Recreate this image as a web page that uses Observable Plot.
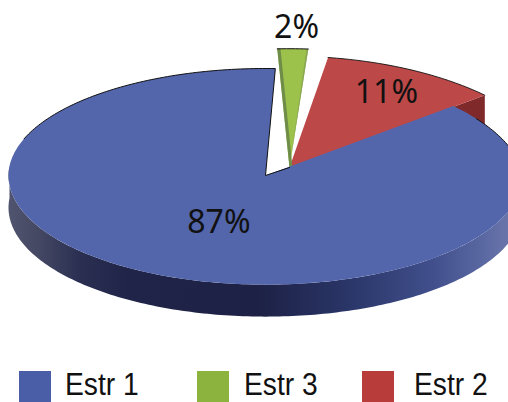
<!DOCTYPE html>
<html><head><meta charset="utf-8">
<style>
html,body{margin:0;padding:0;background:#fff;overflow:hidden}
#legend{position:relative;width:508px;height:31px;font:31px "Liberation Sans",sans-serif;color:#111}
#legend i{position:absolute;top:0;width:32px;height:31px}
#legend span{position:absolute;top:-4px;line-height:36px;white-space:nowrap;transform:scaleX(.91);transform-origin:0 50%}
</style>
<script src="https://cdn.jsdelivr.net/npm/d3@7"></script>
<script src="https://cdn.jsdelivr.net/npm/@observablehq/plot@0.6"></script>
</head><body>
<div id="chart"></div><div id="legend"></div>
<script>
// Data, in the clockwise order of the slices
const categories = ["Estr 1", "Estr 3", "Estr 2"];
const values = [86.9, 1.8, 11.3];
const legendOrder = ["Estr 1", "Estr 3", "Estr 2"];
const topColors = ["#5366ac", "#9dc24c", "#bd4848"];
const legendColors = ["#4a5ea8", "#8db33f", "#b83c3a"];

// Layout of the tilted pie
const W = 508, H = 371, cx = 265, cy = 175, rx = 257, ry = 107;
const depth = 32 / ry, firstAngle = 49.5;
const offset = [[0, 0], [24 / rx, 8 / ry], [24 / rx, 8 / ry]];
const radius = [1, 1.11, 1.04];
const spin = [0, -4.8, 0];
const labelPolar = [[0.476, 202.4], [1.31, 1.2], [0.79, 28.5]];

const total = d3.sum(values);
let running = firstAngle;
const slices = values.map((v, i) => {
  const a0 = running, a1 = running + v / total * 360;
  running = a1;
  return {i, a0: a0 + spin[i], a1: a1 + spin[i], ox: offset[i][0], oy: offset[i][1], r: radius[i]};
});
const rad = d => d * Math.PI / 180;
function pt(s, deg, r = s.r, drop = 0) {
  const sn = Math.sin(rad(deg)), c = Math.cos(rad(deg));
  const squeeze = sn > 0 && c > 0 ? 1 - 0.06 * c : 1;
  const front = c < 0 ? 1.02 : 1;
  return [s.ox + r * sn * squeeze, s.oy + r * c * front - drop];
}
function arc(s, a0, a1, drop = 0) {
  const n = Math.max(2, Math.ceil(Math.abs(a1 - a0)));
  return d3.range(n + 1).map(k => pt(s, a0 + (a1 - a0) * k / n, s.r, drop));
}
const apex = (s, drop = 0) => [s.ox, s.oy - drop];
const wedge = (s, a0 = s.a0, a1 = s.a1) => [apex(s), ...arc(s, a0, a1)];
const poly = (pts, fill) => Plot.line(pts, {x: d => d[0], y: d => d[1], fill, stroke: "none"});
const edge = (pts, w = 0.9, stroke = "#111") => Plot.line(pts, {x: d => d[0], y: d => d[1], stroke, strokeWidth: w});

const [blue, green, red] = slices;
const greenSpan = green.a1 - green.a0;
const stripApex = [green.ox + 3 / rx, green.oy];

const defs = () => {
  const d = d3.create("svg:defs");
  const g = d.append("linearGradient").attr("id", "side")
    .attr("gradientUnits", "userSpaceOnUse")
    .attr("x1", 8).attr("x2", 508).attr("y1", 0).attr("y2", 0);
  [[0, "#50546e"], [0.06, "#444863"], [0.14, "#2b3053"], [0.24, "#1f2448"], [0.5, "#1d2145"],
   [0.68, "#2a3668"], [0.85, "#414f8c"], [0.95, "#5a68a2"], [1, "#6a75aa"]]
    .forEach(([o, c]) => g.append("stop").attr("offset", o).attr("stop-color", c));
  return d.node();
};

const labels = slices.map((s, i) => {
  const [r, deg] = labelPolar[i];
  const sn = Math.sin(rad(deg)), c = Math.cos(rad(deg));
  return {x: s.ox + r * sn, y: s.oy + r * c, t: Math.round(values[i]) + "%"};
});

const chart = Plot.plot({
  width: W, height: H, margin: 0,
  style: {background: "white", overflow: "hidden"},
  x: {domain: [-cx / rx, (W - cx) / rx], range: [0, W], axis: null},
  y: {domain: [cy / ry, (cy - H) / ry], range: [0, H], axis: null},
  marks: [
    defs,
    // Red slice
    poly([apex(red), pt(red, red.a1), pt(red, red.a1, red.r, depth), apex(red, depth)], "#80292a"),
    poly(wedge(red), topColors[2]),
    edge(arc(red, red.a0, red.a1)),
    // Green slice
    poly(wedge(green), topColors[1]),
    poly([apex(green), pt(green, green.a0), pt(green, green.a0 + greenSpan * 0.1), stripApex], "#6f8c49"),
    poly(wedge(green, green.a1 - greenSpan * 0.06, green.a1), "#8aa756"),
    edge(arc(green, green.a0, green.a1), 1),
    // Blue slice
    poly([...arc(blue, 88, 275), ...arc(blue, 275, 88, depth)], "url(#side)"),
    poly(wedge(blue), topColors[0]),
    edge(arc(blue, 58, 80), 1),
    edge([...arc(blue, 290, blue.a1), apex(blue), apex(green)], 1),
    // Labels
    Plot.text(labels, {x: "x", y: "y", text: "t", fontSize: 32, fontFamily: "Noto Sans", fill: "#111"})
  ]
});
document.getElementById("chart").append(chart);
chart.style.display = "block";

const swatchX = [19, 197, 362], textX = [65, 244, 414];
const lg = document.getElementById("legend");
legendOrder.forEach((name, i) => {
  const sw = document.createElement("i");
  sw.style.left = swatchX[i] + "px";
  sw.style.background = legendColors[categories.indexOf(name)];
  const tx = document.createElement("span");
  tx.style.left = textX[i] + "px";
  tx.textContent = name;
  lg.append(sw, tx);
});
</script>
</body></html>
